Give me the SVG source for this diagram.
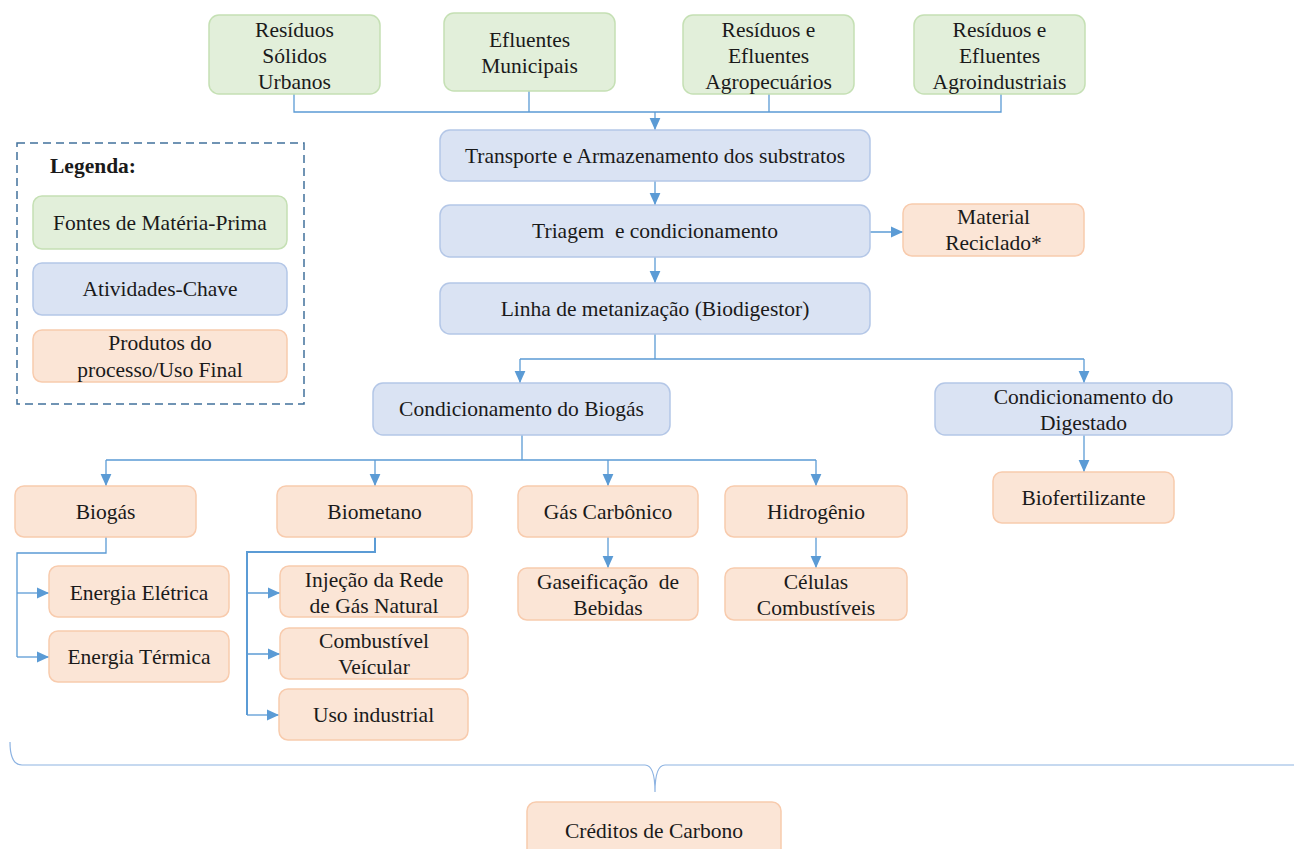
<svg xmlns="http://www.w3.org/2000/svg" width="1294" height="849" viewBox="0 0 1294 849">
<defs>
<style>
text{font-family:"Liberation Serif","Times New Roman",serif;font-size:21.5px;fill:#1a1a1a;text-anchor:middle}
.g{fill:#E2EFDA;stroke:#C5E0B4;stroke-width:1.5}
.b{fill:#DAE3F3;stroke:#B4C7E7;stroke-width:1.5}
.o{fill:#FBE5D6;stroke:#F8CBAD;stroke-width:1.5}
.c{fill:none;stroke:#5B9BD5;stroke-width:1.3}
.a{fill:none;stroke:#5B9BD5;stroke-width:1.3;marker-end:url(#ah)}
</style>
<marker id="ah" markerUnits="userSpaceOnUse" markerWidth="12" markerHeight="12" viewBox="0 0 10 10" refX="10" refY="5" orient="auto">
<path d="M0,0.5 L10,5 L0,9.5 Z" fill="#5B9BD5"/>
</marker>
</defs>
<rect width="1294" height="849" fill="#fff"/>

<g id="connectors">
<path class="c" d="M294,94 V112 H1001 V94 M529,91 V112 M769,94 V112"/>
<path class="a" d="M655,112 V130"/>
<path class="a" d="M655,181 V205"/>
<path class="a" d="M870,232 H903"/>
<path class="a" d="M655,257 V283"/>
<path class="c" d="M655,334 V359 M520,359 H1084"/>
<path class="a" d="M520,359 V383"/>
<path class="a" d="M1084,359 V383"/>
<path class="a" d="M1084,435 V472"/>
<path class="c" d="M522,435 V460 M106,460 H816"/>
<path class="a" d="M106,460 V486"/>
<path class="a" d="M375,460 V486"/>
<path class="a" d="M608,460 V486"/>
<path class="a" d="M816,460 V486"/>
<path class="a" d="M608,537 V568"/>
<path class="a" d="M816,537 V568"/>
<path class="c" d="M106,537 V553 H17 V657"/>
<path class="a" d="M17,593 H49"/>
<path class="a" d="M17,657 H49"/>
<path class="c" d="M375,537 V552 H247 V715" style="stroke-width:2"/>
<path class="a" d="M247,593 H280"/>
<path class="a" d="M247,654 H280"/>
<path class="a" d="M247,715 H279"/>
<path class="c" d="M10,742 Q10,765 22,765 H645 Q655,765 655,792 Q655,765 665,765 H1300" style="stroke:#8DB3E2;stroke-width:1.2"/>
</g>

<g id="legend">
<rect x="17" y="143" width="287" height="261" fill="none" stroke="#41719C" stroke-width="1.5" stroke-dasharray="8,5"/>
<text x="50" y="173" style="font-weight:bold;text-anchor:start">Legenda:</text>
<rect class="g" x="33" y="196" width="254" height="53" rx="9"/>
<text x="160" y="230">Fontes de Matéria-Prima</text>
<rect class="b" x="33" y="263" width="254" height="52" rx="9"/>
<text x="160" y="296">Atividades-Chave</text>
<rect class="o" x="33" y="330" width="254" height="52" rx="9"/>
<text x="160" y="350">Produtos do</text>
<text x="160" y="377">processo/Uso Final</text>
</g>

<g id="rsu"><rect class="g" x="209" y="15" width="171" height="79" rx="10"/>
<text x="294.5" y="37">Resíduos</text><text x="294.5" y="63">Sólidos</text><text x="294.5" y="89">Urbanos</text></g>
<g id="efluentes"><rect class="g" x="444" y="13" width="171" height="78" rx="10"/>
<text x="529.5" y="47">Efluentes</text><text x="529.5" y="73">Municipais</text></g>
<g id="agropecuarios"><rect class="g" x="683" y="15" width="171" height="79" rx="10"/>
<text x="768.5" y="37">Resíduos e</text><text x="768.5" y="63">Efluentes</text><text x="768.5" y="89">Agropecuários</text></g>
<g id="agroindustriais"><rect class="g" x="914" y="15" width="171" height="79" rx="10"/>
<text x="999.5" y="37">Resíduos e</text><text x="999.5" y="63">Efluentes</text><text x="999.5" y="89">Agroindustriais</text></g>

<g id="transporte"><rect class="b" x="440" y="130" width="430" height="51" rx="10"/>
<text x="655" y="163">Transporte e Armazenamento dos substratos</text></g>
<g id="triagem"><rect class="b" x="440" y="205" width="430" height="52" rx="10"/>
<text x="655" y="238" xml:space="preserve">Triagem  e condicionamento</text></g>
<g id="material"><rect class="o" x="903" y="204" width="181" height="52" rx="9"/>
<text x="993.5" y="224">Material</text><text x="993.5" y="250">Reciclado*</text></g>
<g id="linha"><rect class="b" x="440" y="283" width="430" height="51" rx="10"/>
<text x="655" y="316">Linha de metanização (Biodigestor)</text></g>
<g id="condBiogas"><rect class="b" x="373" y="383" width="297" height="52" rx="10"/>
<text x="521.5" y="416">Condicionamento do Biogás</text></g>
<g id="condDigestado"><rect class="b" x="935" y="383" width="297" height="52" rx="10"/>
<text x="1083.5" y="404">Condicionamento do</text><text x="1083.5" y="430">Digestado</text></g>
<g id="biofertilizante"><rect class="o" x="993" y="472" width="181" height="51" rx="9"/>
<text x="1083.5" y="505">Biofertilizante</text></g>

<g id="biogas"><rect class="o" x="15" y="486" width="181" height="51" rx="9"/>
<text x="105.5" y="519">Biogás</text></g>
<g id="biometano"><rect class="o" x="277" y="486" width="195" height="51" rx="9"/>
<text x="374.5" y="519">Biometano</text></g>
<g id="gasCarbonico"><rect class="o" x="518" y="486" width="180" height="51" rx="9"/>
<text x="608" y="519">Gás Carbônico</text></g>
<g id="hidrogenio"><rect class="o" x="725" y="486" width="182" height="51" rx="9"/>
<text x="816" y="519">Hidrogênio</text></g>

<g id="energiaEletrica"><rect class="o" x="49" y="566" width="180" height="51" rx="9"/>
<text x="139" y="600">Energia Elétrica</text></g>
<g id="energiaTermica"><rect class="o" x="49" y="631" width="180" height="51" rx="9"/>
<text x="139" y="664">Energia Térmica</text></g>
<g id="injecao"><rect class="o" x="280" y="566" width="188" height="51" rx="9"/>
<text x="374" y="587">Injeção da Rede</text><text x="374" y="613">de Gás Natural</text></g>
<g id="combustivel"><rect class="o" x="280" y="628" width="188" height="51" rx="9"/>
<text x="374" y="648">Combustível</text><text x="374" y="674">Veícular</text></g>
<g id="usoIndustrial"><rect class="o" x="279" y="689" width="189" height="51" rx="9"/>
<text x="373.5" y="722">Uso industrial</text></g>
<g id="gaseificacao"><rect class="o" x="518" y="568" width="180" height="52" rx="9"/>
<text x="608" y="589" xml:space="preserve">Gaseificação  de</text><text x="608" y="615">Bebidas</text></g>
<g id="celulas"><rect class="o" x="725" y="568" width="182" height="52" rx="9"/>
<text x="816" y="589">Células</text><text x="816" y="615">Combustíveis</text></g>

<g id="creditos"><rect class="o" x="527" y="802" width="254" height="60" rx="9"/>
<text x="654" y="838">Créditos de Carbono</text></g>
</svg>
